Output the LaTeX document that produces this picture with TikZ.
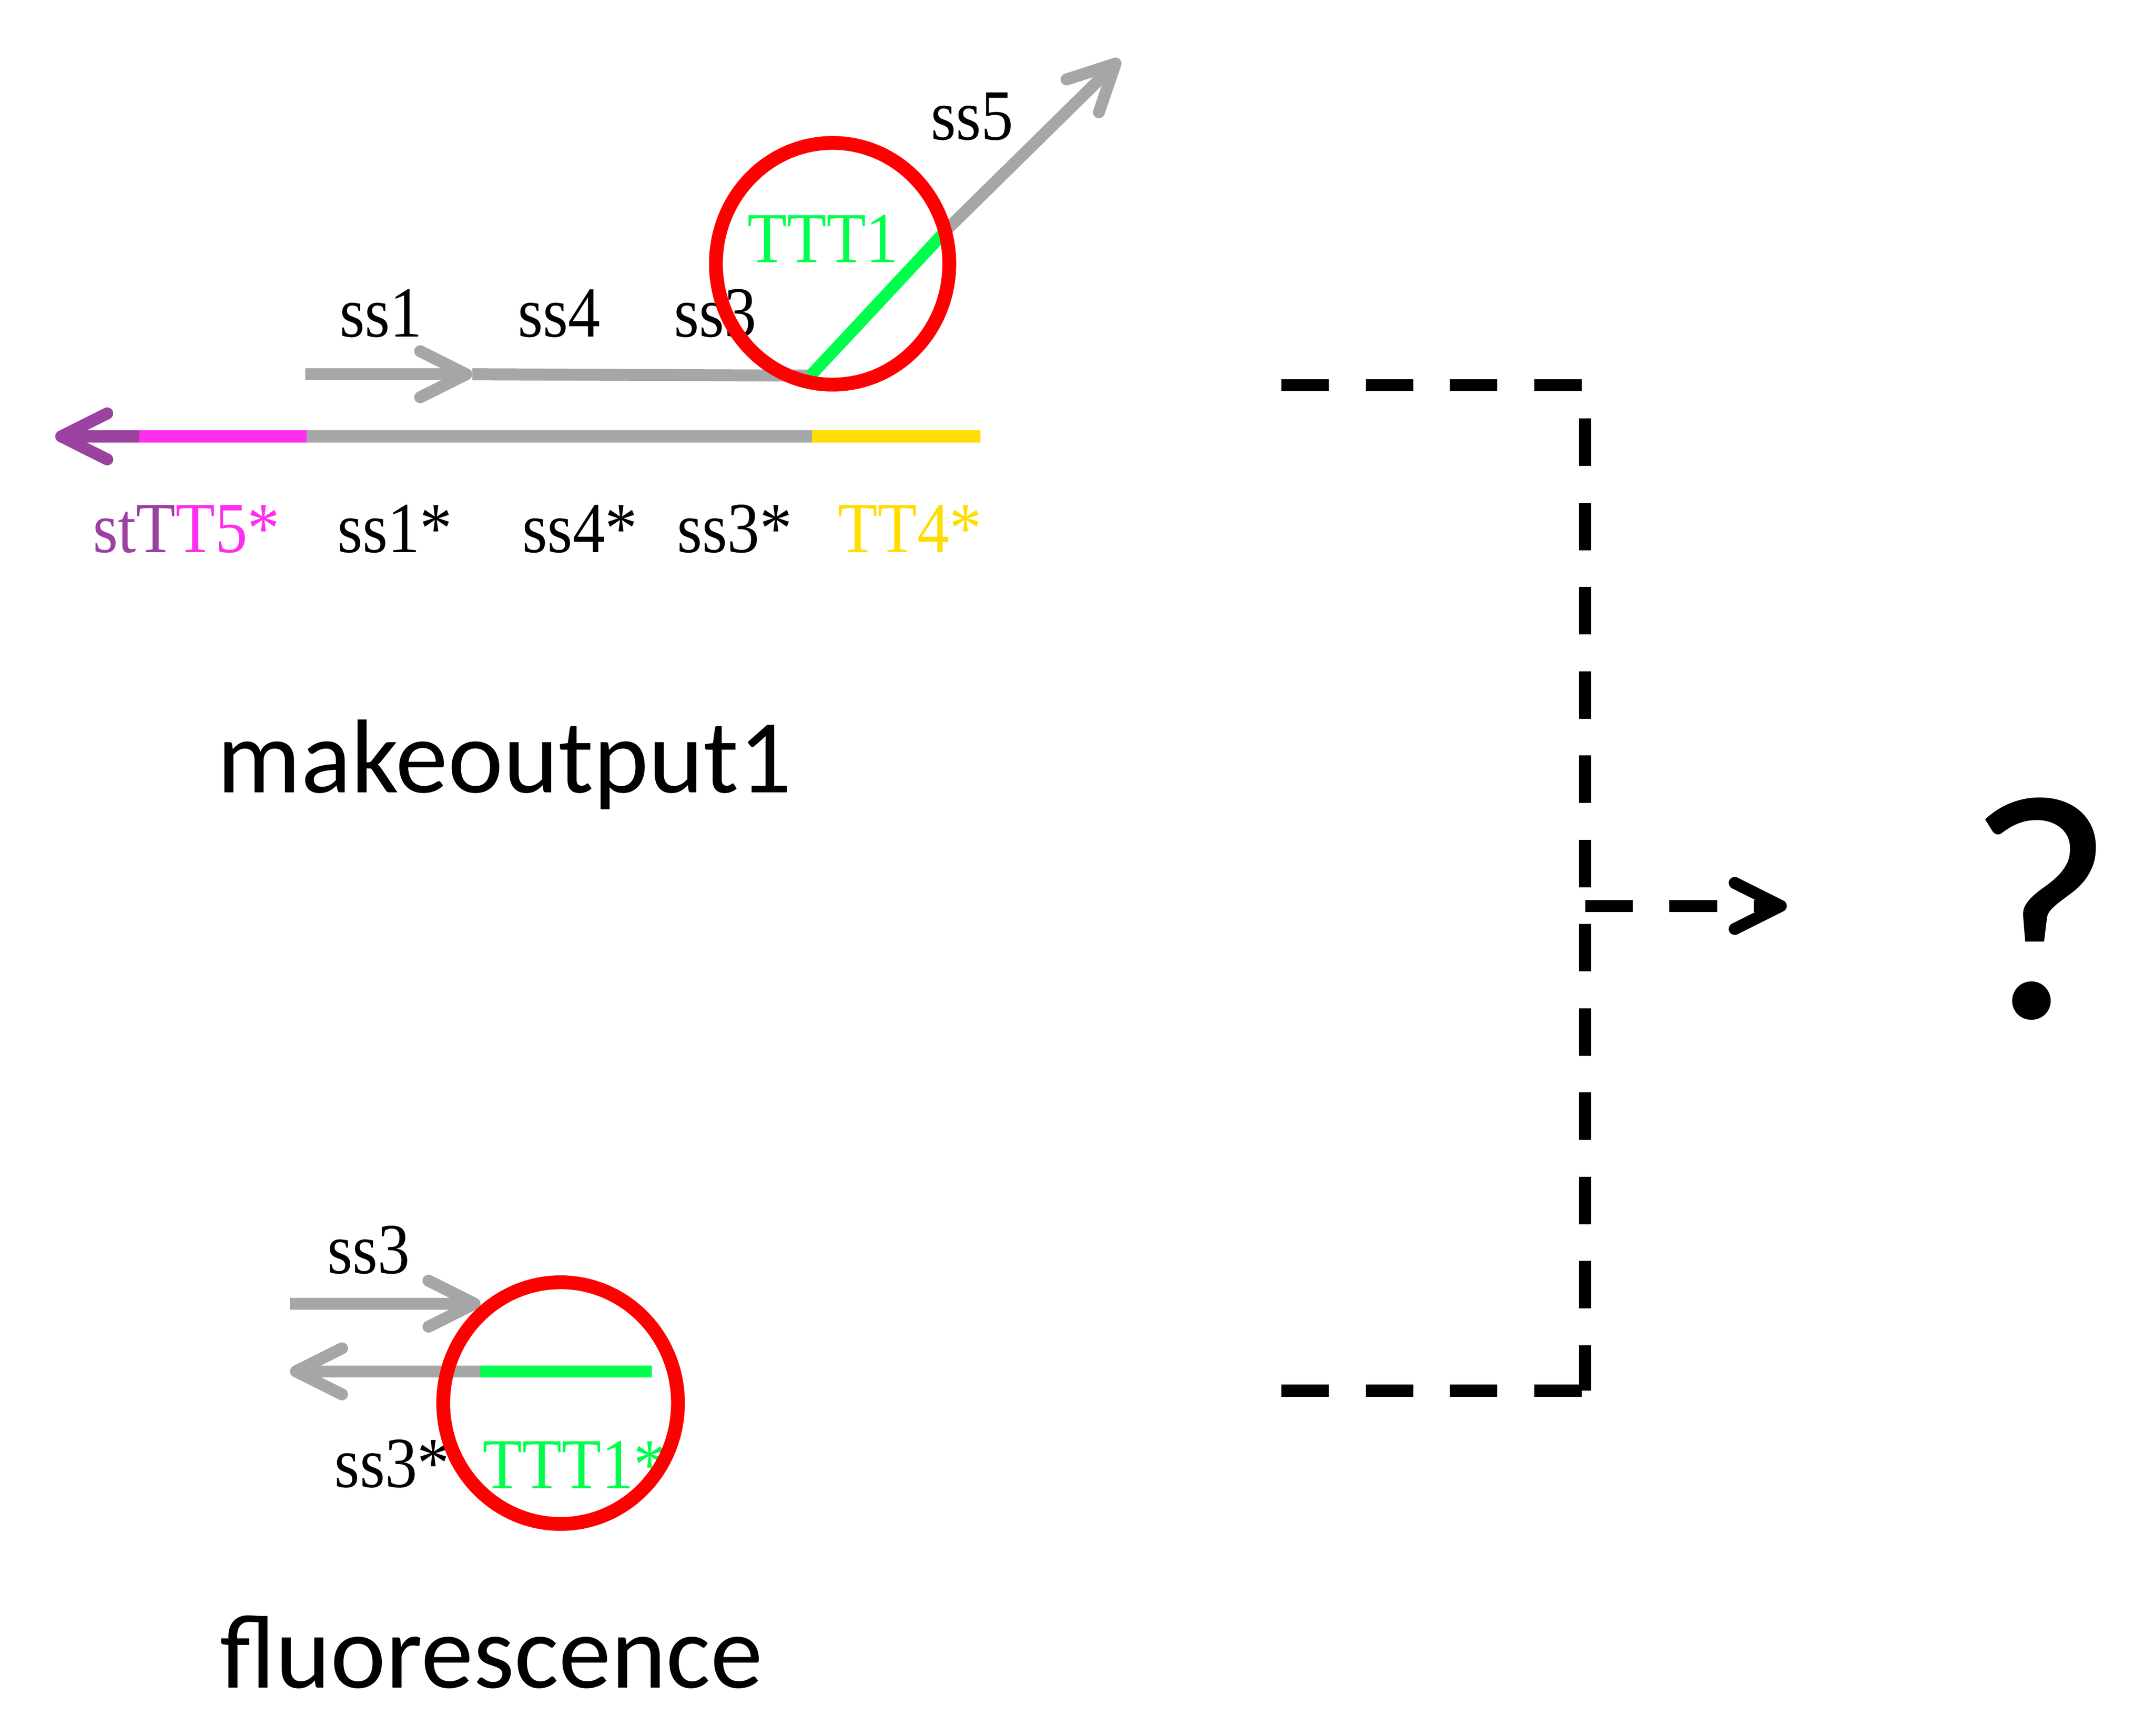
\documentclass[tikz,border=0pt]{standalone}
\usepackage{fontspec}
\usepackage{xcolor}
\usepackage{tikz}
\usetikzlibrary{arrows.meta}
\setmainfont[FakeStretch=0.9]{Liberation Serif}
\newfontfamily\namefont{Carlito}

\definecolor{strandgray}{RGB}{166,166,166}
\definecolor{stpurple}{RGB}{155,65,160}
\definecolor{ttmagenta}{RGB}{255,46,238}
\definecolor{ttyellow}{RGB}{255,221,0}
\definecolor{tttgreen}{RGB}{0,255,76}

\tikzset{
    strand/.style={line width=2.6bp, draw=strandgray},
    barb/.style={-{Straight Barb[length=10bp,width=10bp,round]}},
    dom/.style={anchor=base, inner sep=0pt, font=\fontsize{15.6bp}{18bp}\selectfont},
    title/.style={anchor=base, inner sep=0pt, font=\namefont\fontsize{22.8bp}{26bp}\selectfont},
    bracket/.style={line width=2.6bp, dash pattern=on 10.35bp off 7.95bp},
    loopring/.style={draw=red, line width=3bp}
}

\begin{document}
\begin{tikzpicture}[x=0.3bp, y=-0.3bp]
    \useasboundingbox (0,0) rectangle (1560,1257);

    % makeoutput1: top strand
    \coordinate (A0) at (221,271);
    \coordinate (A1) at (342,271);
    \coordinate (A2) at (587,272);
    \coordinate (A3) at (686,166);
    \coordinate (A4) at (811,43);
    \draw[strand, barb] (A0) -- (A1);
    \draw[strand] (A1) -- (A2);
    \draw[strand, draw=tttgreen] (A2) -- (A3);
    \draw[strand, barb] (A3) -- (A4);

    % makeoutput1: bottom strand
    \coordinate (B0) at (40,316);
    \coordinate (B1) at (101,316);
    \coordinate (B2) at (222,316);
    \coordinate (B3) at (588,316);
    \coordinate (B4) at (710,316);
    \draw[strand, draw=stpurple, barb] (B1) -- (B0);
    \draw[strand, draw=ttmagenta] (B1) -- (B2);
    \draw[strand] (B2) -- (B3);
    \draw[strand, draw=ttyellow] (B3) -- (B4);

    \node[dom] (ss1) at (276,244) {ss1};
    \node[dom] (ss4) at (405,244) {ss4};
    \node[dom] (ss3) at (518,244) {ss3};
    \node[dom, text=tttgreen] (TTT1) at (596,190) {TTT1};
    \node[dom] (ss5) at (704,101) {ss5};
    \node[dom] (stTT5) at (135,400) {\textcolor{stpurple}{stT}\textcolor{ttmagenta}{T5*}};
    \node[dom] (ss1c) at (286,400) {ss1*};
    \node[dom] (ss4c) at (420,400) {ss4*};
    \node[dom] (ss3c) at (532,400) {ss3*};
    \node[dom, text=ttyellow] (TT4c) at (659,400) {TT4*};
    \node[title] (make) at (365.5,574) {makeoutput1};

    % fluorescence
    \coordinate (F0) at (210,944);
    \coordinate (F1) at (348,944);
    \coordinate (G0) at (210,993);
    \coordinate (G1) at (348,993);
    \coordinate (G2) at (472,993);
    \draw[strand, barb] (F0) -- (F1);
    \draw[strand, barb] (G1) -- (G0);
    \draw[strand, draw=tttgreen] (G1) -- (G2);

    \node[dom] (ss3f) at (267,922) {ss3};
    \node[dom] (ss3fc) at (284,1077) {ss3*};
    \node[dom, text=tttgreen] (TTT1c) at (416,1078) {TTT1*};
    \node[title] (fluo) at (356,1222) {fluorescence};

    % toeholds
    \draw[loopring] (603,191) ellipse [x radius=84.5, y radius=87.5];
    \draw[loopring] (406,1016) ellipse [x radius=85, y radius=87.5];

    % bracket and result
    \coordinate (K0) at (928,279);
    \coordinate (K1) at (1148,279);
    \coordinate (K2) at (1148,1007);
    \coordinate (K3) at (928,1007);
    \coordinate (KM) at (1148,656);
    \coordinate (KT) at (1294,656);
    \draw[bracket] (K0) -- (K1) -- (K2);
    \draw[bracket] (K3) -- (K2);
    \draw[bracket, barb] (KM) -- (KT);
    \node[anchor=base, inner sep=0pt, font=\namefont\fontsize{70bp}{76bp}\selectfont] (what) at (1478,737) {?};
\end{tikzpicture}
\end{document}
